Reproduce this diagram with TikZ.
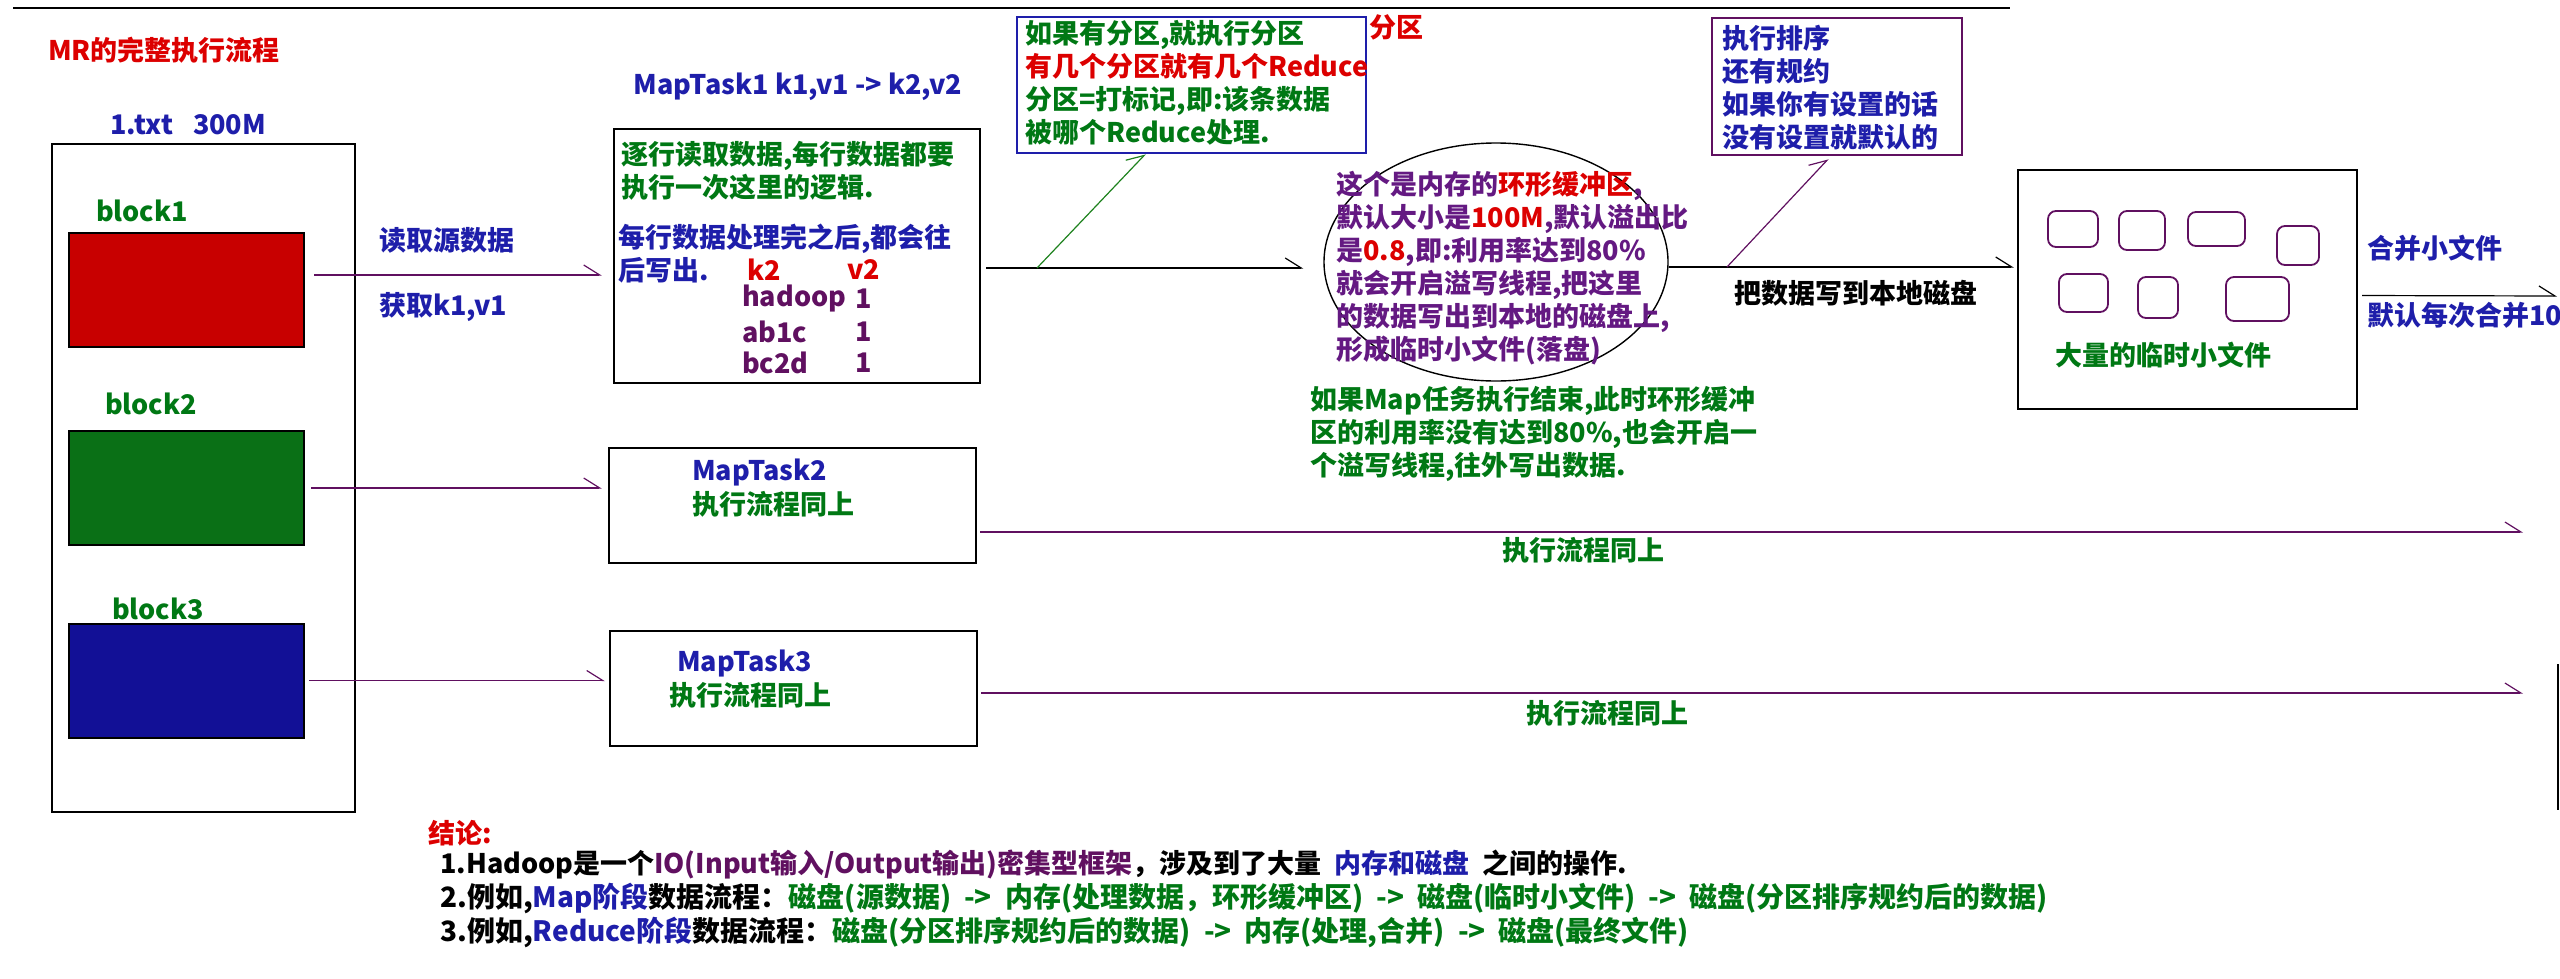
\documentclass[tikz,border=0pt]{standalone}
\usepackage{fontspec}
\setmainfont{Noto Sans CJK SC}
\usetikzlibrary{arrows.meta,shapes.geometric}

\definecolor{mrred}{RGB}{220,0,0}
\definecolor{mrgreen}{RGB}{0,120,20}
\definecolor{mrblue}{RGB}{30,30,170}
\definecolor{mrpurple}{RGB}{96,16,96}
\definecolor{mrviolet}{RGB}{100,25,130}
\definecolor{partgreen}{RGB}{30,130,30}
\definecolor{blkred}{RGB}{200,0,0}
\definecolor{blkgreen}{RGB}{10,112,22}
\definecolor{blkblue}{RGB}{18,16,150}

\tikzset{
  txt/.style={inner sep=0pt, align=left, font=\fontsize{27}{33}\selectfont\bfseries},
  sumtxt/.style={txt, font=\fontsize{28}{33}\selectfont\bfseries},
  blk/.style={draw=black, line width=2pt, minimum width=235pt, minimum height=114pt, inner sep=0pt},
  box/.style={draw=black, line width=2.4pt, inner sep=0pt},
  flow/.style={draw=mrpurple, line width=1.6pt, -{Straight Barb[left,length=16pt,width=20pt,line width=1.2pt]}},
  flowk/.style={flow, draw=black},
  tmpfile/.style={draw=mrpurple, line width=1.8pt, rounded corners=8pt, inner sep=0pt},
}

\begin{document}
\begin{tikzpicture}[x=1pt, y=-1pt]
  \useasboundingbox (0,0) rectangle (2560,978);
  \draw[line width=1.6pt] (13,8) -- (2010,8);

  % the input file and its blocks
  \node[txt, text=mrred, anchor=west] (title) at (48,50) {MR的完整执行流程};
  \node[txt, text=mrblue, anchor=west] (fname) at (110,125) {1.txt\hspace{20pt}300M};
  \node[box, line width=2pt, minimum width=303pt, minimum height=668pt] (file) at (203.5,478) {};

  \node[txt, text=mrgreen] (b1lbl) at (142,211) {block1};
  \node[blk, fill=blkred] (b1) at (186.5,290) {};
  \node[txt, text=mrgreen] (b2lbl) at (151,404) {block2};
  \node[blk, fill=blkgreen] (b2) at (186.5,488) {};
  \node[txt, text=mrgreen] (b3lbl) at (158,609) {block3};
  \node[blk, fill=blkblue] (b3) at (186.5,680.5) {};

  % the map tasks
  \node[txt, text=mrblue] (mt1lbl) at (798,87) {MapTask1 k1,v1 -> k2,v2};
  \node[box, minimum width=366pt, minimum height=254pt] (mt1) at (797,256) {};
  \node[txt, text=mrgreen, anchor=west] (mt1a) at (621,171) {逐行读取数据,每行数据都要\\执行一次这里的逻辑.};
  \node[txt, text=mrblue, anchor=west] (mt1b) at (618,253.5) {每行数据处理完之后,都会往\\后写出.};
  \node[txt, text=mrred] (k2) at (764,270) {k2};
  \node[txt, text=mrred] (v2) at (864,270) {v2};
  \node[txt, text=mrpurple, anchor=west] (r1) at (742,299) {hadoop};
  \node[txt, text=mrpurple, anchor=west] (r2) at (742,332) {ab1c};
  \node[txt, text=mrpurple, anchor=west] (r3) at (742,363) {bc2d};
  \node[txt, text=mrpurple] (r1v) at (864,299) {1};
  \node[txt, text=mrpurple] (r2v) at (864,332) {1};
  \node[txt, text=mrpurple] (r3v) at (864,363) {1};

  \node[txt, text=mrblue, anchor=west] (read) at (379,240) {读取源数据};
  \node[txt, text=mrblue, anchor=west] (getkv) at (379,307) {获取k1,v1};

  \node[box, minimum width=367pt, minimum height=115pt] (mt2) at (792.5,505.5) {};
  \node[txt, text=mrblue, anchor=west] (mt2lbl) at (692,472) {MapTask2};
  \node[txt, text=mrgreen, anchor=west] (mt2txt) at (692,504) {执行流程同上};
  \node[box, minimum width=367pt, minimum height=115pt] (mt3) at (793.5,688.5) {};
  \node[txt, text=mrblue, anchor=west] (mt3lbl) at (677,663) {MapTask3};
  \node[txt, text=mrgreen, anchor=west] (mt3txt) at (669,695) {执行流程同上};

  % partition, ring buffer, sort
  \node[box, draw=mrblue, line width=2pt, minimum width=349pt, minimum height=136pt] (part) at (1191.5,85) {};
  \node[txt, anchor=west] (parttxt) at (1025,83) {\textcolor{mrgreen}{如果有分区,就执行分区}\\
    \textcolor{mrred}{有几个分区就有几个Reduce}\\
    \textcolor{mrgreen}{分区=打标记,即:该条数据}\\
    \textcolor{mrgreen}{被哪个Reduce处理.}};
  \node[txt, text=mrred] (partlbl) at (1396,27) {分区};

  \node[ellipse, draw=black, line width=1.4pt, minimum width=344pt, minimum height=238pt, inner sep=0pt] (buf) at (1496,262) {};
  \node[txt, text=mrviolet, anchor=west] (buftxt) at (1336,268.5) {这个是内存的\textcolor{mrred}{环形缓冲区},\\
    默认大小是\textcolor{mrred}{100M},默认溢出比\\
    是\textcolor{mrred}{0.8},即:利用率达到80\%\\
    就会开启溢写线程,把这里\\
    的数据写出到本地的磁盘上,\\
    形成临时小文件(落盘)};
  \node[txt, text=mrgreen, anchor=west] (mapend) at (1310,434) {如果Map任务执行结束,此时环形缓冲\\
    区的利用率没有达到80\%,也会开启一\\
    个溢写线程,往外写出数据.};

  \node[box, draw=mrpurple, line width=2pt, minimum width=250pt, minimum height=137pt] (sort) at (1837,86.5) {};
  \node[txt, text=mrblue, anchor=west] (sorttxt) at (1722,87.5) {执行排序\\还有规约\\如果你有设置的话\\没有设置就默认的};

  % local disk with the spill files
  \node[box, minimum width=339pt, minimum height=239pt] (disk) at (2187.5,289.5) {};
  \foreach \n/\x/\y/\w/\h in {1/2073/229/50/36, 2/2142/230.5/46/39, 3/2216.5/229/57/34,
      4/2298/245.5/42/39, 5/2083.5/293/49/38, 6/2158/297.5/40/41, 7/2257.5/299/63/44}
    \node[tmpfile, minimum width=\w pt, minimum height=\h pt] (f\n) at (\x,\y) {};
  \node[txt, text=mrgreen] (disktxt) at (2163,355) {大量的临时小文件};
  \node[txt] (write) at (1856,293) {把数据写到本地磁盘};
  \node[txt, text=mrblue, anchor=west] (merge) at (2367,248) {合并小文件};
  \node[txt, text=mrblue, anchor=west] (merge10) at (2367,315) {默认每次合并10};

  \node[txt, text=mrgreen] (same2) at (1583,550) {执行流程同上};
  \node[txt, text=mrgreen] (same3) at (1607,713) {执行流程同上};

  % connectors
  \draw[flow, shorten <=9pt, shorten >=11pt] ([yshift=15pt]b1.east) -- ([yshift=15pt]b1.east -| mt1.west);
  \draw[flow, line width=1.2pt, shorten <=6pt, shorten >=6pt] (b2.east) -- (b2.east -| mt2.west);
  \draw[flow, shorten <=4pt, shorten >=4pt] (b3.east) -- (b3.east -| mt3.west);

  \draw[flowk, shorten <=5pt, shorten >=20pt] ([yshift=-12pt]mt1.east) -- ([yshift=-12pt]mt1.east -| buf.west);
  \coordinate (pfork) at (1037,268);
  \draw[flow, draw=partgreen, line width=1.2pt] (pfork) -- ([xshift=-46pt]part.south);

  \draw[flowk, line width=2.4pt, shorten >=3pt] ([yshift=-5pt]buf.east) -- ([yshift=-5pt]buf.east -| disk.west);
  \coordinate (sfork) at (1727,267);
  \draw[flow, line width=1.2pt, shorten >=4pt] (sfork) -- ([xshift=-6pt]sort.south);

  \coordinate (mergeend) at (2557,296);
  \draw[flowk, line width=1.2pt, shorten <=4pt] ([yshift=-6pt]disk.east) -- (mergeend);

  \coordinate (out2) at (2523,532);
  \draw[flow, line width=2.6pt, shorten <=3pt] ([yshift=-26.5pt]mt2.east) -- (out2);
  \coordinate (out3) at (2523,693);
  \draw[flow, line width=1.8pt, shorten <=3pt] ([yshift=-4.5pt]mt3.east) -- (out3);

  \draw[line width=2pt] (2558,664) -- (2558,810);

  % conclusion
  \node[txt, text=mrred, anchor=west] (concl) at (428,833) {结论:};
  \node[txt, anchor=west] (c1) at (440,865) {\spaceskip=13pt\relax 1.Hadoop是一个\textcolor{mrpurple}{IO(Input输入/Output输出)密集型框架}，涉及到了大量 \textcolor{mrblue}{内存和磁盘} 之间的操作.};
  \node[sumtxt, anchor=west] (c2) at (440,898) {\spaceskip=13pt\relax 2.例如,\textcolor{mrblue}{Map阶段}数据流程：\textcolor{mrgreen}{磁盘(源数据) -> 内存(处理数据，环形缓冲区) -> 磁盘(临时小文件) -> 磁盘(分区排序规约后的数据)}};
  \node[sumtxt, anchor=west] (c3) at (440,932) {\spaceskip=13pt\relax 3.例如,\textcolor{mrblue}{Reduce阶段}数据流程：\textcolor{mrgreen}{磁盘(分区排序规约后的数据) -> 内存(处理,合并) -> 磁盘(最终文件)}};
\end{tikzpicture}
\end{document}
